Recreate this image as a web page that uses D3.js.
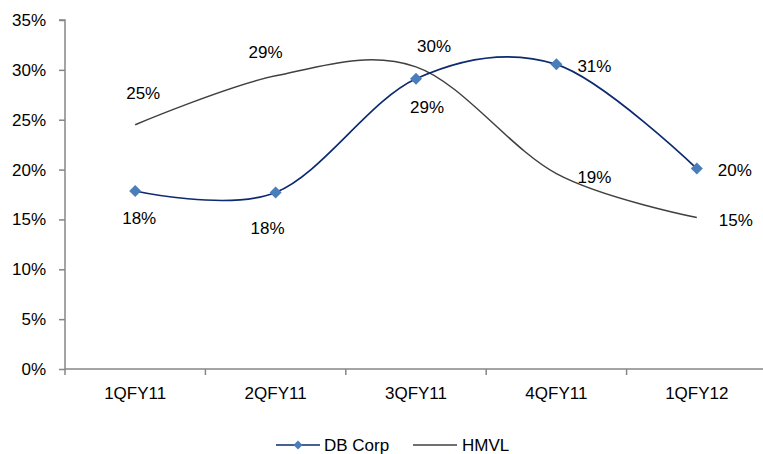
<!DOCTYPE html>
<html><head><meta charset="utf-8">
<script src="https://cdn.jsdelivr.net/npm/d3@7"></script>
<style>
body{margin:0;background:#fff;}
text{font-family:"Liberation Sans",Arial,sans-serif;fill:#000;}
</style></head>
<body><svg id="c" width="763" height="454"></svg>
<script>
const categories = ["1QFY11","2QFY11","3QFY11","4QFY11","1QFY12"];
const dbCorp = [17.85, 17.7, 29.1, 30.55, 20.1];
const hmvl = [24.5, 29.4, 30.3, 19.6, 15.2];
const dbCorpLabels = ["18%","18%","29%","31%","20%"];
const hmvlLabels = ["25%","29%","30%","19%","15%"];
const yTicks = [0,5,10,15,20,25,30,35];

// layout-only label offsets (px from the point)
const dbOff = [[4,27],[-8,35],[11,28],[38,2],[38,1]];
const hmOff = [[8,-32],[-10,-24],[18,-21],[38,3],[39,2]];

const svg = d3.select("#c");
const mLeft = 65, mTop = 20, mBottom = 369;
const x = d3.scaleBand().domain(categories).range([mLeft, 767]);
const y = d3.scaleLinear().domain([0,35]).range([mBottom, mTop]);
const cx = d => x(d) + x.bandwidth()/2;
const fs = 17;

// y axis
const ya = svg.append("g").attr("transform",`translate(${mLeft},0)`)
  .call(d3.axisLeft(y).tickValues(yTicks).tickFormat(d=>d+"%").tickSize(6).tickPadding(13));
ya.select(".domain").attr("stroke","#868686").attr("stroke-width",1.5).attr("d",`M-6,${mTop}H0V${mBottom}`);
ya.selectAll(".tick line").attr("stroke","#868686").attr("stroke-width",1.5);
ya.selectAll("text").attr("font-size",fs).attr("font-family","Liberation Sans, Arial, sans-serif").attr("fill","#000");

// x axis
const xa = svg.append("g").attr("transform",`translate(0,${mBottom})`)
  .call(d3.axisBottom(x).tickSize(0).tickPadding(18));
xa.select(".domain").attr("stroke","#868686").attr("stroke-width",1.5).attr("d",`M${mLeft},0H763`);
xa.selectAll("text").attr("font-size",fs).attr("font-family","Liberation Sans, Arial, sans-serif").attr("fill","#000");
// band boundary ticks
xa.selectAll(".bt").data(categories).join("line").attr("class","bt")
  .attr("x1",d=>x(d)).attr("x2",d=>x(d)).attr("y1",0).attr("y2",6)
  .attr("stroke","#868686").attr("stroke-width",1.5);

const line = d3.line().x((d,i)=>cx(categories[i])).y(d=>y(d)).curve(d3.curveCardinal.tension(0));

svg.append("path").datum(hmvl).attr("d",line).attr("fill","none").attr("stroke","#404040").attr("stroke-width",1.5);
svg.append("path").datum(dbCorp).attr("d",line).attr("fill","none").attr("stroke","#0B2A6F").attr("stroke-width",1.7);

const diamond = "M0,-6L6,0L0,6L-6,0Z";
svg.selectAll(".mk").data(dbCorp).join("path").attr("class","mk")
  .attr("d",diamond).attr("transform",(d,i)=>`translate(${cx(categories[i])},${y(d)})`)
  .attr("fill","#4A7EBB");

function labels(vals, txt, off){
  svg.append("g").selectAll("text").data(vals).join("text")
    .attr("x",(d,i)=>cx(categories[i])+off[i][0])
    .attr("y",(d,i)=>y(d)+off[i][1])
    .attr("dy","0.36em").attr("text-anchor","middle").attr("font-size",fs)
    .text((d,i)=>txt[i]);
}
labels(dbCorp, dbCorpLabels, dbOff);
labels(hmvl, hmvlLabels, hmOff);

// legend
const lg = svg.append("g").attr("transform","translate(0,445)");
lg.append("line").attr("x1",276).attr("x2",320).attr("y1",0).attr("y2",0).attr("stroke","#0B2A6F").attr("stroke-width",1.7);
lg.append("path").attr("d","M0,-4.5L4.5,0L0,4.5L-4.5,0Z").attr("transform","translate(298,0)").attr("fill","#4A7EBB");
lg.append("text").attr("x",324).attr("y",0).attr("dy","0.36em").attr("font-size",fs).text("DB Corp");
lg.append("line").attr("x1",413).attr("x2",457).attr("y1",0).attr("y2",0).attr("stroke","#404040").attr("stroke-width",1.5);
lg.append("text").attr("x",462).attr("y",0).attr("dy","0.36em").attr("font-size",fs).text("HMVL");
</script></body></html>
